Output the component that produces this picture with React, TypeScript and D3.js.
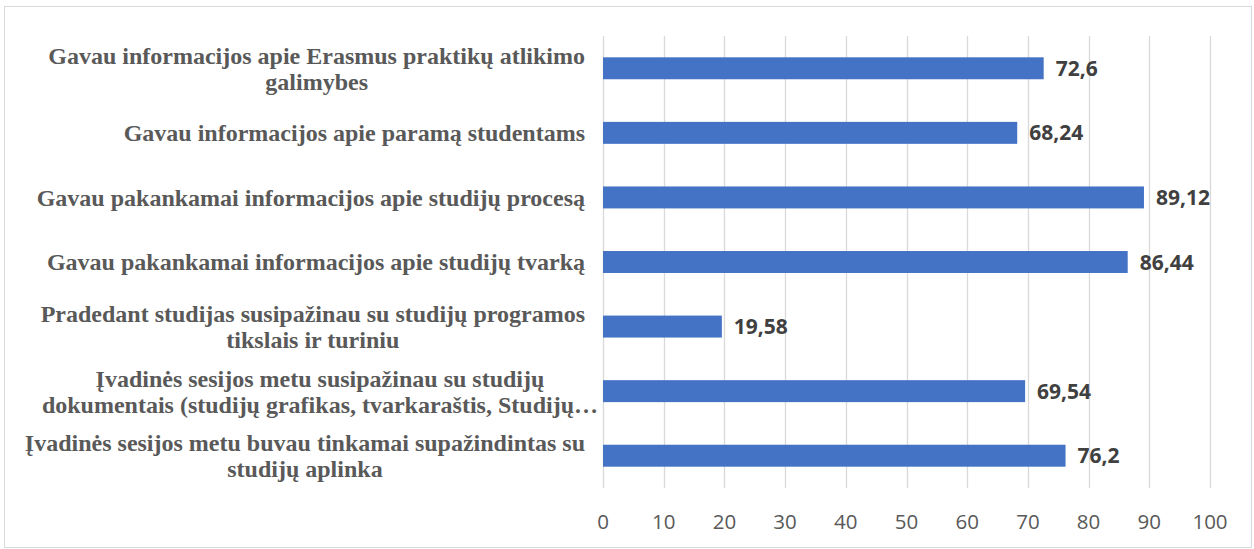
import React, { useEffect, useRef } from 'react';
import * as d3 from 'd3';

// Category labels (already split into lines as shown in the chart)
const categories: string[][] = [
  ['Gavau informacijos apie Erasmus praktikų atlikimo', 'galimybes'],
  ['Gavau informacijos apie paramą studentams'],
  ['Gavau pakankamai informacijos apie studijų procesą'],
  ['Gavau pakankamai informacijos apie studijų tvarką'],
  ['Pradedant studijas susipažinau su studijų programos', 'tikslais ir turiniu'],
  ['Įvadinės sesijos metu susipažinau su studijų', 'dokumentais (studijų grafikas, tvarkaraštis, Studijų…'],
  ['Įvadinės sesijos metu buvau tinkamai supažindintas su', 'studijų aplinka'],
];
const values: number[] = [72.6, 68.24, 89.12, 86.44, 19.58, 69.54, 76.2];
const xTicks: number[] = [0, 10, 20, 30, 40, 50, 60, 70, 80, 90, 100];

const W = 1254;
const H = 549;

function App() {
  const ref = useRef<SVGSVGElement | null>(null);

  useEffect(() => {
    document.body.style.margin = '0';
    if (!ref.current) return;
    const svg = d3.select(ref.current);
    svg.selectAll('*').remove();

    const margin = { top: 36, right: 44, bottom: 61, left: 603 };
    const width = W - margin.left - margin.right;
    const height = H - margin.top - margin.bottom;

    const lt = d3.formatLocale({ decimal: ',', thousands: ' ', grouping: [3], currency: ['', ' €'] });
    const fmt = (v: number) => lt.format('~f')(v);

    // outer frame
    svg.append('rect')
      .attr('x', 4.5).attr('y', 6.5)
      .attr('width', W - 7).attr('height', H - 8)
      .attr('fill', '#fff').attr('stroke', '#d9d9d9').attr('stroke-width', 1);

    const g = svg.append('g').attr('transform', `translate(${margin.left},${margin.top})`);

    const x = d3.scaleLinear().domain([0, 100]).range([0, width]);
    const y = d3.scaleBand<number>()
      .domain(values.map((d, i) => i))
      .range([0, height])
      .paddingInner(0.66)
      .paddingOuter(0.33);

    // gridlines
    g.selectAll('line.grid')
      .data(xTicks)
      .enter()
      .append('line')
      .attr('class', 'grid')
      .attr('x1', d => Math.round(x(d)) + 0.5)
      .attr('x2', d => Math.round(x(d)) + 0.5)
      .attr('y1', 0)
      .attr('y2', height)
      .attr('stroke', '#d9d9d9')
      .attr('stroke-width', 1.3);

    // tick labels
    g.selectAll('text.tick')
      .data(xTicks)
      .enter()
      .append('text')
      .attr('x', d => x(d))
      .attr('y', height + 40.5)
      .attr('text-anchor', 'middle')
      .attr('font-family', 'Open Sans, sans-serif')
      .attr('font-size', 20.5)
      .attr('fill', '#595959')
      .text(d => String(d));

    // bars
    g.selectAll('rect.bar')
      .data(values)
      .enter()
      .append('rect')
      .attr('class', 'bar')
      .attr('x', x(0))
      .attr('y', (d, i) => y(i) as number)
      .attr('width', d => x(d))
      .attr('height', y.bandwidth())
      .attr('fill', '#4472c4');

    // value labels
    g.selectAll('text.val')
      .data(values)
      .enter()
      .append('text')
      .attr('x', d => x(d) + 12)
      .attr('y', (d, i) => (y(i) as number) + y.bandwidth() / 2)
      .attr('dy', '0.36em')
      .attr('font-family', 'Open Sans, sans-serif')
      .attr('font-weight', 'bold')
      .attr('font-size', 21)
      .attr('fill', '#404040')
      .text(d => fmt(d));

    // category labels: right-aligned block, lines centered within block
    const lineH = 26;
    categories.forEach((lines, i) => {
      const cy = (y(i) as number) + y.bandwidth() / 2;
      const t = g.append('text')
        .attr('font-family', 'Liberation Serif, Times New Roman, serif')
        .attr('font-weight', 'bold')
        .attr('font-size', 24)
        .attr('fill', '#595959')
        .attr('text-anchor', 'middle');
      const spans = lines.map((ln, k) =>
        t.append('tspan')
          .attr('y', cy + (k - (lines.length - 1) / 2) * lineH)
          .attr('dy', '0.35em')
          .text(ln)
      );
      const widths = spans.map(s => (s.node() as SVGTSPanElement).getComputedTextLength());
      const bw = Math.max(...widths);
      const right = i === 5 ? -5 : -18;
      spans.forEach(s => s.attr('x', right - bw / 2));
    });
  }, []);

  return <svg ref={ref} width={W} height={H} style={{ display: 'block' }} />;
}

export default App;
